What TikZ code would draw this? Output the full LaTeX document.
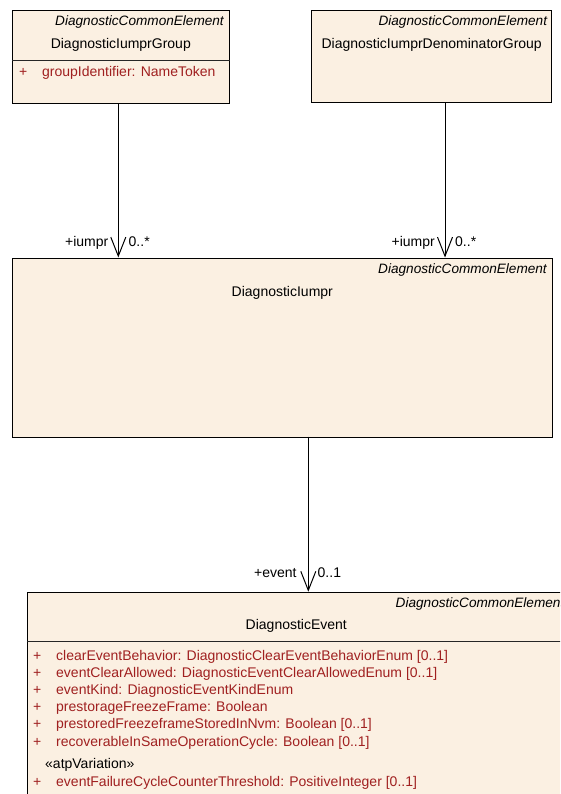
\documentclass[tikz,border=0pt]{standalone}
\usepackage{fontspec}
\setmainfont{Liberation Sans}
\usetikzlibrary{arrows.meta}
\definecolor{umlfill}{RGB}{251,240,226}
\definecolor{attrred}{RGB}{160,32,32}
\begin{document}
\begin{tikzpicture}[x=1pt,y=-1pt,
  box/.style={draw=black, fill=umlfill, line width=1pt, inner sep=0pt, anchor=north west},
  divider/.style={draw=black!85, line width=1pt},
  txt/.style={inner sep=0pt, anchor=base, font=\fontsize{14}{17}\selectfont},
  ster/.style={inner sep=0pt, anchor=base east, font=\fontsize{13.6}{17}\selectfont\itshape},
  attr/.style={inner sep=0pt, anchor=base west, text=attrred, font=\fontsize{14}{17}\selectfont},
  lblL/.style={inner sep=0pt, anchor=base east, font=\fontsize{14}{17}\selectfont},
  lblR/.style={inner sep=0pt, anchor=base west, font=\fontsize{14}{17}\selectfont},
  assoc/.style={line width=1pt, -{Straight Barb[length=19pt,width=15pt,line width=1pt]}}]
\useasboundingbox (0,0) rectangle (560,794);
\clip (0,0) rectangle (560,794);
\fill[white] (0,0) rectangle (560,794);

% DiagnosticIumprGroup
\node[box, minimum width=217pt, minimum height=93pt] (grp) at (12.3,10.3) {};
\draw[divider] (grp.west |- 0,60.3) -- (grp.east |- 0,60.3);
\node[ster] (grpS) at (224,26) {DiagnosticCommonElement};
\node[txt] (grpN) at (120.8,48.3) {DiagnosticIumprGroup};
\node[attr] (grpP) at (19,76.7) {+};
\node[attr] (grpA) at (42,76.7) {groupIdentifier: NameToken};

% DiagnosticIumprDenominatorGroup
\node[box, minimum width=240pt, minimum height=92pt] (den) at (311,10.3) {};
\node[ster] (denS) at (547.3,26) {DiagnosticCommonElement};
\node[txt] (denN) at (431.7,48.3) {DiagnosticIumprDenominatorGroup};

% DiagnosticIumpr
\node[box, minimum width=540pt, minimum height=179pt] (ium) at (12.3,257.5) {};
\node[ster] (iumS) at (547,273) {DiagnosticCommonElement};
\node[txt] (iumN) at (282.3,296) {DiagnosticIumpr};

% DiagnosticEvent
\node[box, minimum width=539pt, minimum height=230pt] (evt) at (27,591.7) {};
\draw[divider] (evt.west |- 0,641) -- (evt.east |- 0,641);
\node[ster] (evtS) at (564.5,607.5) {DiagnosticCommonElement};
\node[txt] (evtN) at (296.3,629.5) {DiagnosticEvent};
\foreach \y/\t [count=\i] in {
  660/{clearEventBehavior: DiagnosticClearEventBehaviorEnum [0..1]},
  677.2/{eventClearAllowed: DiagnosticEventClearAllowedEnum [0..1]},
  694.4/{eventKind: DiagnosticEventKindEnum},
  711.6/{prestorageFreezeFrame: Boolean},
  728.8/{prestoredFreezeframeStoredInNvm: Boolean [0..1]},
  746/{recoverableInSameOperationCycle: Boolean [0..1]}} {
  \node[attr] (evtP\i) at (33,\y) {+};
  \node[attr] (evtA\i) at (56,\y) {\t};
}
\node[txt, anchor=base west] (evtV) at (45,768.5) {«atpVariation»};
\node[attr] (evtP7) at (33,786) {+};
\node[attr] (evtA7) at (56,786) {eventFailureCycleCounterThreshold: PositiveInteger [0..1]};

% associations
\coordinate (s1) at (118.3,103.3);
\coordinate (s2) at (445,102.3);
\coordinate (s3) at (308.3,436.5);
\draw[assoc] (s1) -- (s1 |- ium.north);
\draw[assoc] (s2) -- (s2 |- ium.north);
\draw[assoc] (s3) -- (s3 |- evt.north);

\node[lblL] (l1a) at (108.5,246) {+iumpr};
\node[lblR] (l1b) at (128.5,246) {0..*};
\node[lblL] (l2a) at (435,246) {+iumpr};
\node[lblR] (l2b) at (455,246) {0..*};
\node[lblL] (l3a) at (296.7,577.5) {+event};
\node[lblR] (l3b) at (317.5,577.5) {0..1};
\end{tikzpicture}
\end{document}
